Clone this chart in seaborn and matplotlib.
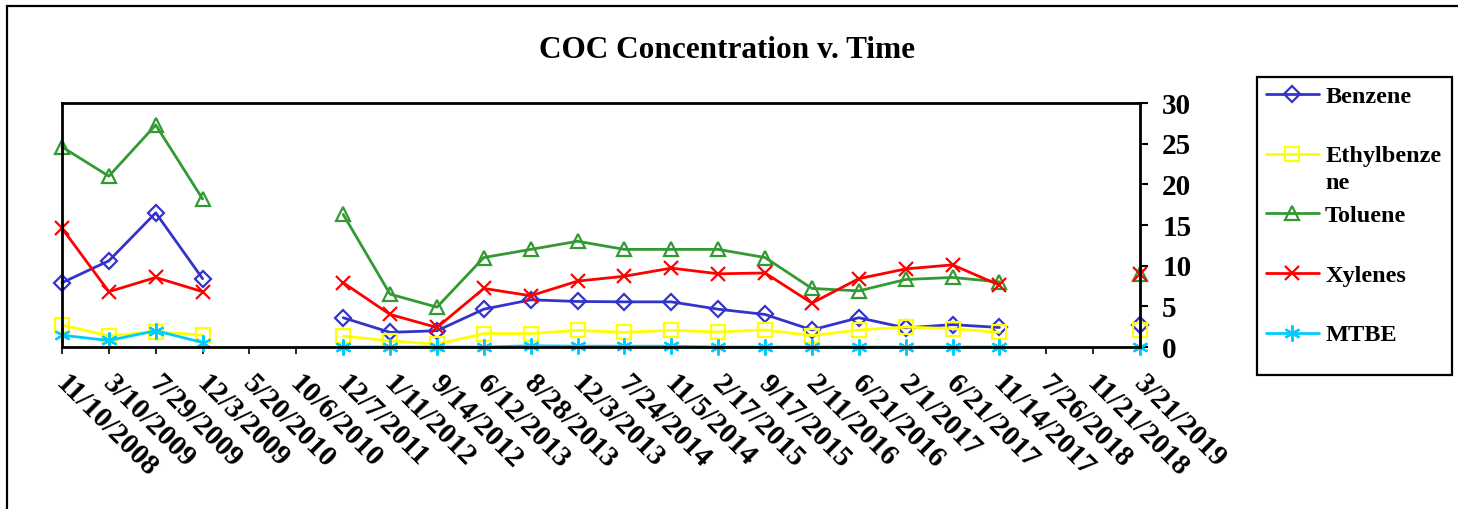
import numpy as np
import pandas as pd
import matplotlib
matplotlib.use("Agg")
import matplotlib.pyplot as plt
from matplotlib.lines import Line2D
from matplotlib.patches import Rectangle
from matplotlib.text import Annotation
import seaborn as sns

dates = ["11/10/2008", "3/10/2009", "7/29/2009", "12/3/2009", "5/20/2010",
         "10/6/2010", "12/7/2011", "1/11/2012", "9/14/2012", "6/12/2013",
         "8/28/2013", "12/3/2013", "7/24/2014", "11/5/2014", "2/17/2015",
         "9/17/2015", "2/11/2016", "6/21/2016", "2/1/2017", "6/21/2017",
         "11/14/2017", "7/26/2018", "11/21/2018", "3/21/2019"]
nan = np.nan
benzene = [7.9, 10.6, 16.5, 8.4, nan, nan, 3.6, 1.8, 2.0, 4.65, 5.8, 5.6,
           5.55, 5.55, 4.65, 4.0, 2.1, 3.6, 2.35, 2.75, 2.4, nan, nan, 2.7]
ethylbenzene = [2.7, 1.35, 1.9, 1.45, nan, nan, 1.35, 0.75, 0.35, 1.65, 1.65, 2.05,
                1.8, 2.05, 1.85, 2.1, 1.4, 2.1, 2.45, 2.25, 1.8, nan, nan, 2.1]
toluene = [24.6, 21.0, 27.3, 18.2, nan, nan, 16.3, 6.5, 4.9, 11.0, 12.0, 13.0,
           12.0, 12.0, 12.0, 11.0, 7.2, 6.9, 8.3, 8.55, 8.0, nan, nan, 9.0]
xylenes = [14.6, 6.8, 8.55, 6.8, nan, nan, 7.9, 4.0, 2.4, 7.2, 6.3, 8.1,
           8.7, 9.7, 9.0, 9.1, 5.4, 8.4, 9.6, 10.1, 7.6, nan, nan, 9.0]
mtbe = [1.45, 0.8, 2.0, 0.55, nan, nan, 0.0, 0.0, 0.0, 0.0, 0.15, 0.1,
        0.1, 0.1, 0.0, 0.0, 0.0, 0.0, 0.0, 0.0, 0.0, nan, nan, 0.0]

series_names = ["Benzene", "Ethylbenzene", "Toluene", "Xylenes", "MTBE"]
series_values = [benzene, ethylbenzene, toluene, xylenes, mtbe]
colors = ["#3333CC", "#FFFF00", "#339933", "#FF0000", "#00CCFF"]
markers = ["D", "s", "^", "x", (6, 2, 0)]
msizes = [8, 9.5, 10.5, 10.5, 11.5]
y_ticks = [0, 5, 10, 15, 20, 25, 30]

sns.set_theme(style="white")
plt.rcParams["font.family"] = ["Liberation Serif", "DejaVu Serif"]
plt.rcParams["font.weight"] = "bold"
plt.rcParams["text.color"] = "black"
plt.rcParams["xtick.color"] = "black"
plt.rcParams["ytick.color"] = "black"
plt.rcParams["axes.labelcolor"] = "black"

W, H = 1458, 509
fig = plt.figure(figsize=(W / 100, H / 100), dpi=100)
ax = fig.add_axes([62 / W, 1 - 347 / H, (1140 - 62) / W, (347 - 103) / H])

pos = np.arange(len(dates))
handles = []
for name, vals, c, m, ms in zip(series_names, series_values, colors, markers, msizes):
    df = pd.DataFrame({"pos": pos, "val": vals})
    df["seg"] = df["val"].isna().cumsum()
    df = df.dropna()
    for _, g in df.groupby("seg"):
        sns.lineplot(data=g, x="pos", y="val", ax=ax, color=c, lw=2.0,
                     marker=m, markersize=ms, mfc="none", mec=c, mew=1.6,
                     estimator=None, clip_on=False, legend=False)
    handles.append(Line2D([0], [0], color=c, lw=2.0, marker=m, markersize=ms,
                          mfc="none", mec=c, mew=1.6))

ax.set_xlim(0, len(dates) - 1)
ax.set_ylim(0, 30)
ax.set_xlabel("")
ax.set_ylabel("")
ax.yaxis.tick_right()
ax.set_yticks(y_ticks)
ax.set_yticklabels([str(v) for v in y_ticks], fontsize=21, fontweight="bold",
                   color="black")
ax.set_xticks(pos)
ax.set_xticklabels(dates, fontsize=21, fontweight="bold", rotation=-45, color="black",
                   ha="left", va="center_baseline", rotation_mode="anchor")
ax.tick_params(axis="x", direction="out", length=5, width=1.2, color="black", pad=17,
               bottom=True)
ax.tick_params(axis="y", direction="out", length=6, width=1.5, color="black", pad=10,
               right=True, left=False)
for s in ax.spines.values():
    s.set_visible(True)
    s.set_color("black")
    s.set_linewidth(2.0)
ax.grid(False)

fig.text(727 / W, 1 - 50 / H, "COC Concentration v. Time", ha="center", va="center",
         fontsize=22.5, fontweight="bold", color="black")

labels = ["Benzene", "Ethylbenze", "Toluene", "Xylenes", "MTBE"]
leg = fig.legend(handles, labels, loc="upper left",
                 bbox_to_anchor=(1257 / W, 1 - 77 / H), bbox_transform=fig.transFigure,
                 frameon=False,
                 prop={"family": "Liberation Serif", "weight": "bold", "size": 17.5},
                 handlelength=2.2, handletextpad=0.25, labelspacing=1.55,
                 borderpad=0.35, borderaxespad=0)
for t in leg.get_texts():
    t.set_color("black")
eth_text = leg.get_texts()[1]
fig.canvas.draw()
ne = Annotation("ne", xy=(0, 0), xycoords=eth_text, xytext=(0, -4),
                textcoords="offset points", ha="left", va="top",
                fontsize=17.5, fontweight="bold", color="black",
                annotation_clip=False)
ne.set_zorder(20)
fig.add_artist(ne)

# legend frame
fig.add_artist(Rectangle((1257 / W, 1 - 375 / H), (1452 - 1257) / W, (375 - 77) / H,
                         transform=fig.transFigure, fill=False, ec="black", lw=1.6,
                         zorder=0))
# outer chart-area border
fig.add_artist(Rectangle((7 / W, -0.2), 2, 1 - 6 / H + 0.2, transform=fig.transFigure,
                         fill=False, ec="black", lw=1.6))

fig.savefig("out.png", dpi=100)
